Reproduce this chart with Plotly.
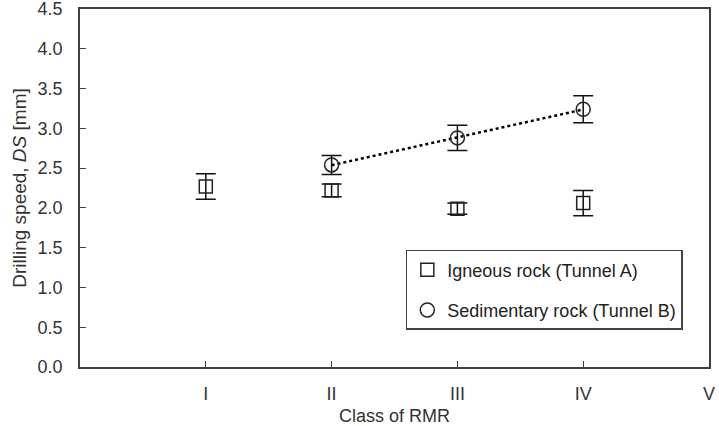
import plotly.graph_objects as go
import numpy as np

# Data
classes_x = [1, 2, 3, 4, 5]
class_labels = ["I", "II", "III", "IV", "V"]

igneous_x = [1, 2, 3, 4]
igneous_y = [2.27, 2.22, 1.99, 2.06]
igneous_err = [0.16, 0.08, 0.07, 0.16]

sedimentary_x = [2, 3, 4]
sedimentary_y = [2.54, 2.88, 3.24]
sedimentary_err = [0.12, 0.16, 0.17]

y_ticks = [0.0, 0.5, 1.0, 1.5, 2.0, 2.5, 3.0, 3.5, 4.0, 4.5]

FONT = "Liberation Sans, Arial, sans-serif"
AX = "#404040"
TXT = "#333333"

fig = go.Figure()

# trend line (linear fit of sedimentary data)
coef = np.polyfit(sedimentary_x, sedimentary_y, 1)
tx = [min(sedimentary_x), max(sedimentary_x)]
ty = [coef[0] * v + coef[1] for v in tx]
fig.add_trace(go.Scatter(x=tx, y=ty, mode="lines", showlegend=False,
                         line=dict(color="black", width=2.5, dash="dot"),
                         hoverinfo="skip"))

fig.add_trace(go.Scatter(
    x=igneous_x, y=igneous_y, mode="markers", name="Igneous rock (Tunnel A)",
    legendgroup="a",
    marker=dict(symbol="square-open", size=13, color="#222", line=dict(width=1.5)),
    error_y=dict(type="data", array=igneous_err, visible=True, color="#111",
                 thickness=1.5, width=10)))

fig.add_trace(go.Scatter(
    x=sedimentary_x, y=sedimentary_y, mode="markers", name="Sedimentary rock (Tunnel B)",
    legendgroup="b",
    marker=dict(symbol="circle-open", size=14, color="#222", line=dict(width=1.5)),
    error_y=dict(type="data", array=sedimentary_err, visible=True, color="#111",
                 thickness=1.5, width=10)))

fig.update_layout(
    width=719, height=426,
    margin=dict(l=80, r=10, t=9, b=59),
    paper_bgcolor="white", plot_bgcolor="white",
    font=dict(family=FONT, size=18, color=TXT),
    showlegend=True,
    legend=dict(x=0.518, y=0.327, xanchor="left", yanchor="top",
                bgcolor="white", bordercolor="#444", borderwidth=1.5,
                font=dict(size=18, color="#222"), tracegroupgap=14,
                itemwidth=30),
    xaxis=dict(range=[0, 5], tickmode="array", tickvals=classes_x,
               ticktext=class_labels, ticks="inside", ticklen=6,
               tickcolor=AX, showline=True, linecolor=AX, linewidth=1.5,
               mirror=True, showgrid=False, zeroline=False, automargin=False,
               ticklabelstandoff=10, ticklabeloverflow="allow",
               tickfont=dict(size=18, color=TXT),
               title=dict(text="Class of RMR", font=dict(size=18, color=TXT), standoff=10)),
    yaxis=dict(range=[0, 4.5], tickmode="array", tickvals=y_ticks,
               ticktext=[f"{v:.1f}" for v in y_ticks], ticks="inside", ticklen=6,
               tickcolor=AX, showline=True, linecolor=AX, linewidth=1.5,
               mirror=True, showgrid=False, zeroline=False, automargin=False,
               ticklabelstandoff=12, ticklabeloverflow="allow",
               tickfont=dict(size=18, color=TXT),
               title=dict(text="Drilling speed, <i>DS</i> [mm]", font=dict(size=19, color=TXT), standoff=6)),
)

fig.write_html("out.html")
